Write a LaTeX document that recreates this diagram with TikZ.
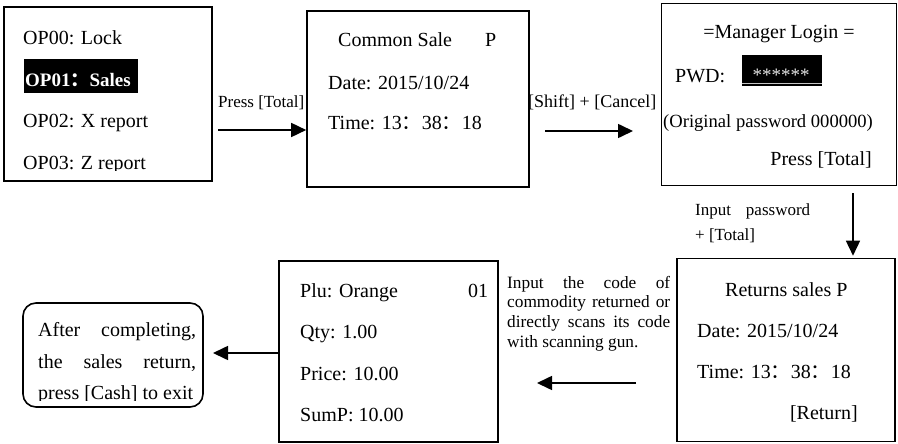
\documentclass[tikz,border=0pt]{standalone}
\usepackage{fontspec}
\setmainfont{Liberation Serif}
\newfontfamily\cjk{Noto Sans CJK SC}
\usetikzlibrary{arrows.meta}
\newcommand\fwc{{\cjk ：}}
\begin{document}
\begin{tikzpicture}[x=1pt,y=-1pt,
  box/.style={draw,line width=1.6pt,inner sep=0pt},
  arr/.style={line width=1.6pt,-{Triangle[length=15pt,width=14pt]}},
  txt/.style={anchor=base west,inner sep=0pt,font=\fontsize{20}{24}\selectfont},
  lbl/.style={anchor=base west,inner sep=0pt,font=\fontsize{17}{20}\selectfont},
  sml/.style={anchor=base west,inner sep=0pt,font=\fontsize{17.3}{20}\selectfont},
]
\useasboundingbox (0,0) rectangle (898,444);

% boxes
\node[box,minimum width=208pt,minimum height=174pt] (b1) at (108,94) {};
\node[box,minimum width=222pt,minimum height=176pt] (b2) at (418,99) {};
\node[box,minimum width=235pt,minimum height=182pt] (b3) at (779,94.5) {};
\node[box,minimum width=218pt,minimum height=183pt] (b4) at (786,350) {};
\node[box,minimum width=219pt,minimum height=181pt] (b5) at (388.5,351.5) {};
\node[box,rounded corners=13pt,minimum width=180pt,minimum height=104pt] (b6) at (113,355) {};

% box 1
\node[txt] (t11) at (23,45) {OP00: Lock};
\node[fill=black,inner sep=0pt,minimum width=114pt,minimum height=34pt] (hl) at (81,76) {};
\node[anchor=base west,inner sep=0pt,text=white,font=\fontsize{19}{20}\selectfont\bfseries] (t12) at (25,87) {OP01\fwc Sales};
\node[txt] (t13) at (23,128) {OP02: X report};
\begin{scope}
\clip (5,8) rectangle (211,170.5);
\node[txt] (t14) at (23,169.5) {OP03: Z report};
\end{scope}

% box 2
\node[txt] (t21) at (338,47) {Common Sale};
\node[txt] (t22) at (485,47) {P};
\node[txt] (t23) at (328,90) {Date: 2015/10/24};
\node[txt] (t24) at (328,130) {Time: 13\fwc 38\fwc 18};

% box 3
\node[anchor=base,inner sep=0pt,font=\fontsize{20}{24}\selectfont] (t31) at (779,38.5) {=Manager Login =};
\node[txt] (t32) at (675,83) {PWD:};
\node[fill=black,inner sep=0pt,minimum width=80pt,minimum height=31pt] (pw) at (782,70.5) {};
\draw[gray!45,line width=1.5pt] ([yshift=2.5pt]pw.south west) -- ([yshift=2.5pt]pw.south east);
\node[anchor=base,inner sep=0pt,text=gray!20,font=\fontsize{19}{20}\selectfont] (ast) at (781,82) {******};
\node[anchor=base west,inner sep=0pt,font=\fontsize{18.6}{20}\selectfont] (t33) at (663,128) {(Original password 000000)};
\node[anchor=base east,inner sep=0pt,font=\fontsize{20}{24}\selectfont] (t34) at (872,165) {Press [Total]};

% box 4
\node[txt] (t41) at (725,296) {Returns sales P};
\node[txt] (t42) at (697,337) {Date: 2015/10/24};
\node[txt] (t43) at (697,378) {Time: 13\fwc 38\fwc 18};
\node[anchor=base east,inner sep=0pt,font=\fontsize{20}{24}\selectfont] (t44) at (858,419) {[Return]};

% box 5
\node[txt] (t51) at (300,297) {Plu: Orange};
\node[txt] (t52) at (468,297) {01};
\node[txt] (t53) at (300,338) {Qty: 1.00};
\node[txt] (t54) at (300,380) {Price: 10.00};
\node[txt] (t55) at (300,421) {SumP: 10.00};

% box 6
\node[txt] (t61) at (38,336) {\hbox to 158pt{After\hfill completing,}};
\node[txt] (t62) at (38,368) {\hbox to 158pt{the\hfill sales\hfill return,}};
\begin{scope}
\clip (24,304) rectangle (202,400.5);
\node[txt] (t63) at (38,399.5) {press [Cash] to exit};
\end{scope}

% labels
\node[lbl] (l1) at (218,107) {Press [Total]};
\node[anchor=base west,inner sep=0pt,font=\fontsize{18}{20}\selectfont] (l2) at (528,107) {[Shift] + [Cancel]};
\node[lbl] (l3a) at (695,215) {\hbox to 115pt{Input\hfill password}};
\node[lbl] (l3b) at (695,240) {+ [Total]};
\node[sml] (l4a) at (507,288) {\hbox to 163pt{Input\hfill the\hfill code\hfill of}};
\node[sml] (l4b) at (507,307.7) {\hbox to 163pt{commodity\hfill returned\hfill or}};
\node[sml] (l4c) at (507,327.4) {\hbox to 163pt{directly\hfill scans\hfill its\hfill code}};
\node[sml] (l4d) at (507,347) {with scanning gun.};

% arrows
\coordinate (a1s) at (218,130);
\draw[arr] (a1s) -- (a1s -| b2.west);
\coordinate (a2s) at (545,131);
\coordinate (a2e) at (633,131);
\draw[arr] (a2s) -- (a2e);
\coordinate (a3s) at (853,193);
\draw[arr,shorten >=2pt] (a3s) -- (a3s |- b4.north);
\coordinate (a4s) at (636,383);
\coordinate (a4e) at (537,383);
\draw[arr] (a4s) -- (a4e);
\coordinate (a5e) at (213,353);
\draw[arr] (a5e -| b5.west) -- (a5e);
\end{tikzpicture}
\end{document}
